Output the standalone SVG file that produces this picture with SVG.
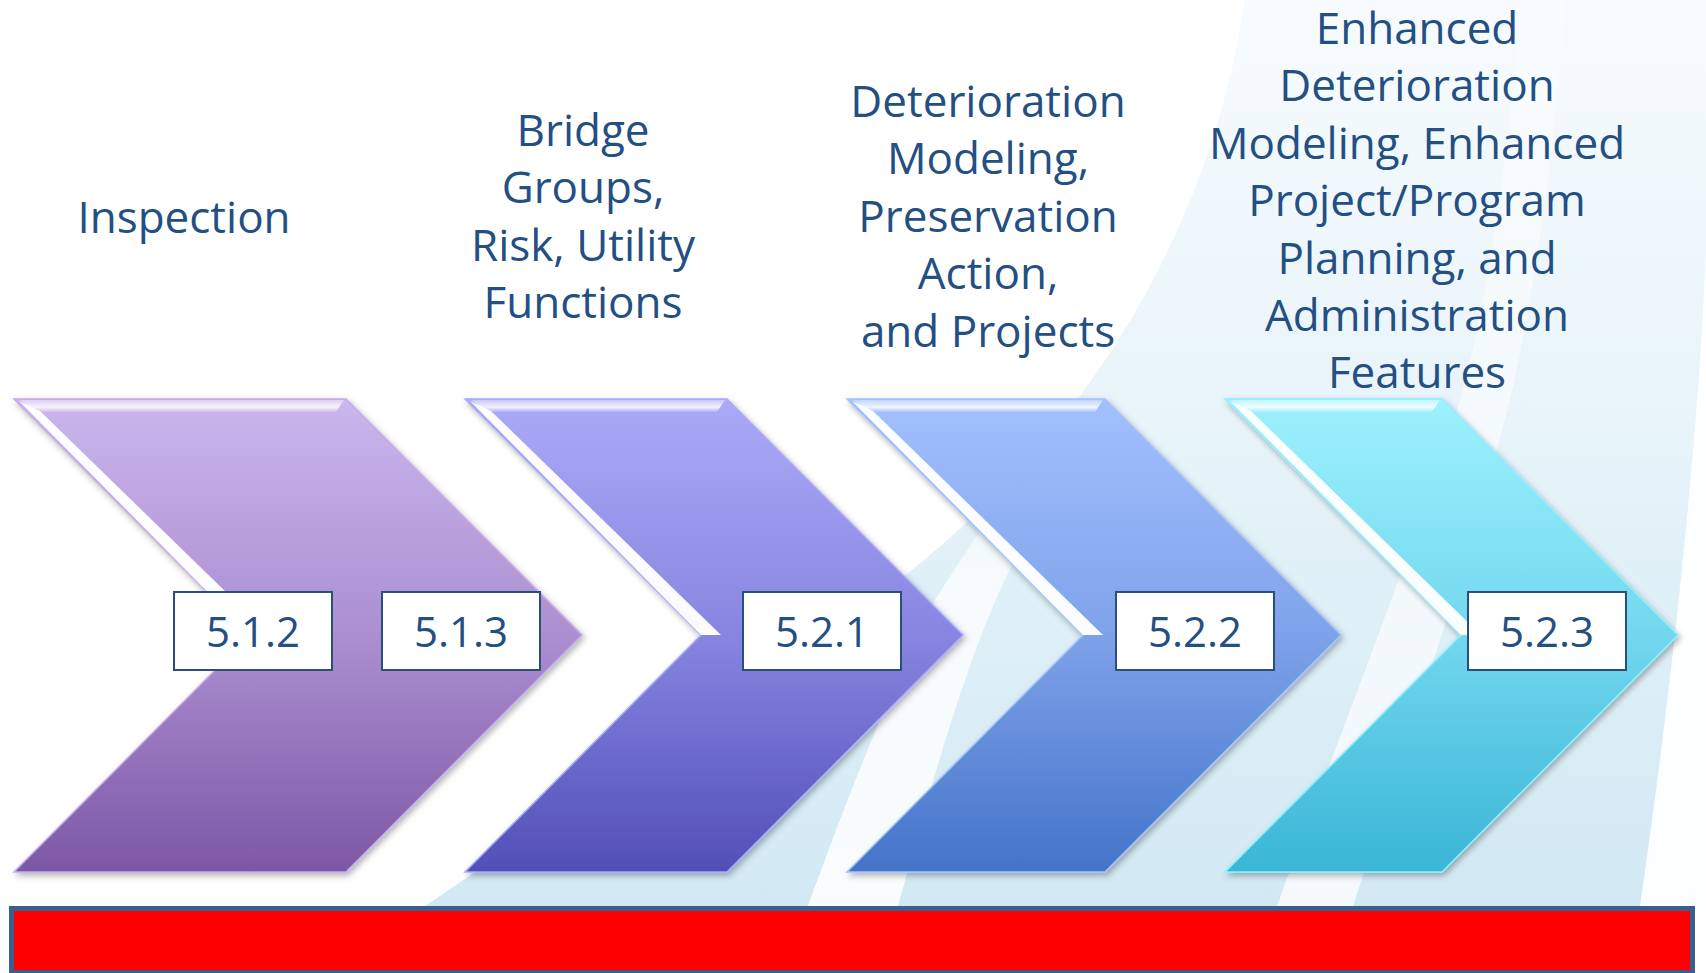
<svg xmlns="http://www.w3.org/2000/svg" width="1706" height="973" viewBox="0 0 1706 973">
  <defs>
    <linearGradient id="bgGrad" x1="0" y1="0" x2="0" y2="1">
      <stop offset="0" stop-color="#f7fbfe"/>
      <stop offset="0.45" stop-color="#e8f4fa"/>
      <stop offset="1" stop-color="#d2e9f4"/>
    </linearGradient>
    <linearGradient id="stripeGrad" x1="0" y1="1" x2="0" y2="0">
      <stop offset="0" stop-color="#ffffff" stop-opacity="1"/>
      <stop offset="0.7" stop-color="#ffffff" stop-opacity="0.8"/>
      <stop offset="1" stop-color="#ffffff" stop-opacity="0"/>
    </linearGradient>
    <linearGradient id="stripe2Grad" x1="0" y1="1" x2="0" y2="0">
      <stop offset="0" stop-color="#ffffff" stop-opacity="0.75"/>
      <stop offset="0.6" stop-color="#ffffff" stop-opacity="0.5"/>
      <stop offset="1" stop-color="#ffffff" stop-opacity="0.3"/>
    </linearGradient>
    <linearGradient id="g1" x1="0" y1="0" x2="0" y2="1">
      <stop offset="0" stop-color="#cbb6ed"/>
      <stop offset="0.5" stop-color="#ab8fd0"/>
      <stop offset="1" stop-color="#7c57a6"/>
    </linearGradient>
    <linearGradient id="g2" x1="0" y1="0" x2="0" y2="1">
      <stop offset="0" stop-color="#abaaf7"/>
      <stop offset="0.5" stop-color="#8785e0"/>
      <stop offset="1" stop-color="#524fb8"/>
    </linearGradient>
    <linearGradient id="g3" x1="0" y1="0" x2="0" y2="1">
      <stop offset="0" stop-color="#a2c0fd"/>
      <stop offset="0.5" stop-color="#7ea2ea"/>
      <stop offset="1" stop-color="#4474c8"/>
    </linearGradient>
    <linearGradient id="g4" x1="0" y1="0" x2="0" y2="1">
      <stop offset="0" stop-color="#9ef1fe"/>
      <stop offset="0.5" stop-color="#72d7ee"/>
      <stop offset="1" stop-color="#3ab6d7"/>
    </linearGradient>
    <linearGradient id="topBevel" x1="0" y1="0" x2="0" y2="1">
      <stop offset="0" stop-color="#ffffff" stop-opacity="0.35"/>
      <stop offset="0.6" stop-color="#ffffff" stop-opacity="0.85"/>
      <stop offset="1" stop-color="#ffffff" stop-opacity="0.1"/>
    </linearGradient>
    <filter id="shadow" x="-5%" y="-5%" width="115%" height="115%">
      <feDropShadow dx="2" dy="3" stdDeviation="3" flood-color="#000000" flood-opacity="0.3"/>
    </filter>
  </defs>
  <style>
    .lbl { font-family: "Open Sans", "Noto Sans", "Liberation Sans", sans-serif; font-size: 44px; fill: #234f83; text-anchor: middle; }
    .num { font-family: "Open Sans", "Noto Sans", "Liberation Sans", sans-serif; font-size: 42px; fill: #234f83; text-anchor: middle; }
    .box { fill: #ffffff; stroke: #2a4f7f; stroke-width: 2; }
    .bevel { fill: #ffffff; opacity: 0.97; }
    .topb { fill: url(#topBevel); }
  </style>

  <!-- background -->
  <rect x="0" y="0" width="1706" height="973" fill="#ffffff"/>
  <g id="background">
    <path d="M 425 906 C 640 760, 860 630, 990 500 C 1120 370, 1215 200, 1245 0 L 1706 0 L 1706 906 Z" fill="url(#bgGrad)"/>
    <path d="M 808 906 L 898 906 C 930 790, 960 680, 1000 590 C 1030 525, 1060 480, 1090 440 L 1040 450 C 1000 500, 960 560, 935 600 C 890 690, 850 790, 808 906 Z" fill="url(#stripeGrad)" opacity="0.9"/>
    <path d="M 1277 906 L 1353 906 C 1400 760, 1470 560, 1510 400 C 1535 290, 1555 150, 1565 0 L 1520 0 C 1510 150, 1490 290, 1460 400 C 1410 560, 1330 760, 1277 906 Z" fill="url(#stripe2Grad)"/>
    <path d="M 1640 906 C 1670 700, 1698 450, 1706 250 L 1706 906 Z" fill="#ffffff" opacity="0.95"/>
  </g>

  <!-- chevron 1 -->
  <g id="chevron1">
    <polygon points="14,399 346,399 582,635 346,872 14,872 250,635" fill="url(#g1)" stroke="#c3aaee" stroke-width="1.5" filter="url(#shadow)"/>
    <polygon class="topb" points="20,400 344,400 336,412 36,412"/>
    <polygon class="bevel" points="19,401 40,411 270,635 250,635"/>
  </g>
  <!-- chevron 2 -->
  <g id="chevron2">
    <polygon points="465,399 727,399 963,635 727,872 465,872 701,635" fill="url(#g2)" stroke="#a9a8ff" stroke-width="1.5" filter="url(#shadow)"/>
    <polygon class="topb" points="471,400 725,400 717,412 487,412"/>
    <polygon class="bevel" points="470,401 491,411 721,635 701,635"/>
  </g>
  <!-- chevron 3 -->
  <g id="chevron3">
    <polygon points="847,399 1105,399 1341,635 1105,872 847,872 1083,635" fill="url(#g3)" stroke="#a3c3ff" stroke-width="1.5" filter="url(#shadow)"/>
    <polygon class="topb" points="853,400 1103,400 1095,412 869,412"/>
    <polygon class="bevel" points="852,401 873,411 1103,635 1083,635"/>
  </g>
  <!-- chevron 4 -->
  <g id="chevron4">
    <polygon points="1225,399 1442,399 1678,635 1442,872 1225,872 1461,635" fill="url(#g4)" stroke="#8eefff" stroke-width="1.5" filter="url(#shadow)"/>
    <polygon class="topb" points="1231,400 1440,400 1432,412 1247,412"/>
    <polygon class="bevel" points="1230,401 1251,411 1481,635 1461,635"/>
  </g>

  <!-- number boxes -->
  <g id="box512">
    <rect class="box" x="174" y="592" width="158" height="78"/>
    <text class="num" x="253" y="647">5.1.2</text>
  </g>
  <g id="box513">
    <rect class="box" x="382" y="592" width="158" height="78"/>
    <text class="num" x="461" y="647">5.1.3</text>
  </g>
  <g id="box521">
    <rect class="box" x="743" y="592" width="158" height="78"/>
    <text class="num" x="822" y="647">5.2.1</text>
  </g>
  <g id="box522">
    <rect class="box" x="1116" y="592" width="158" height="78"/>
    <text class="num" x="1195" y="647">5.2.2</text>
  </g>
  <g id="box523">
    <rect class="box" x="1468" y="592" width="158" height="78"/>
    <text class="num" x="1547" y="647">5.2.3</text>
  </g>

  <!-- labels -->
  <g id="label1">
    <text class="lbl" x="184" y="233">Inspection</text>
  </g>
  <g id="label2">
    <text class="lbl" x="583" y="146">Bridge</text>
    <text class="lbl" x="583" y="203.4">Groups,</text>
    <text class="lbl" x="583" y="260.8">Risk, Utility</text>
    <text class="lbl" x="583" y="318.2">Functions</text>
  </g>
  <g id="label3">
    <text class="lbl" x="988" y="117">Deterioration</text>
    <text class="lbl" x="988" y="174.4">Modeling,</text>
    <text class="lbl" x="988" y="231.8">Preservation</text>
    <text class="lbl" x="988" y="289.2">Action,</text>
    <text class="lbl" x="988" y="346.6">and Projects</text>
  </g>
  <g id="label4">
    <text class="lbl" x="1417" y="44">Enhanced</text>
    <text class="lbl" x="1417" y="101.4">Deterioration</text>
    <text class="lbl" x="1417" y="158.8">Modeling, Enhanced</text>
    <text class="lbl" x="1417" y="216.2">Project/Program</text>
    <text class="lbl" x="1417" y="273.6">Planning, and</text>
    <text class="lbl" x="1417" y="331">Administration</text>
    <text class="lbl" x="1417" y="388.4">Features</text>
  </g>

  <!-- connectors (none) -->
  <g id="connectors"/>

  <!-- red bar -->
  <g id="redbar">
    <rect x="11.5" y="908.5" width="1681" height="64" fill="#ff0000" stroke="#3b5e8c" stroke-width="5"/>
  </g>
</svg>
